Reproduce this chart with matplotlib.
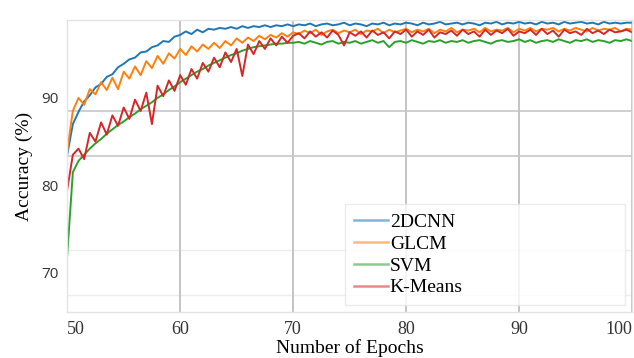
import numpy as np
import matplotlib
matplotlib.use("Agg")
import matplotlib.pyplot as plt

labels = ["2DCNN", "GLCM", "SVM", "K-Means"]
colors = ["#1f77b4", "#ff7f0e", "#2ca02c", "#d62728"]

cnn = [83.5, 87.0, 88.4, 89.6, 90.3, 91.2, 91.6, 92.4, 92.7, 93.5, 93.9, 94.4, 94.6, 95.2, 95.3, 95.8,
       96.0, 96.5, 96.4, 97.0, 97.2, 97.6, 97.3, 97.8, 97.5, 97.9, 97.8, 98.0, 97.9, 98.1, 97.9, 98.2,
       98.0, 98.2, 98.1, 98.3, 98.1, 98.3, 98.2, 98.4, 98.2,
       98.4, 98.3, 98.5, 98.2, 98.4, 98.5, 98.3, 98.4, 98.6, 98.3,
       98.5, 98.4, 98.2, 98.5, 98.4, 98.6, 98.3, 98.5, 98.4, 98.6,
       98.5, 98.3, 98.6, 98.4, 98.5, 98.7, 98.4, 98.5, 98.6, 98.4,
       98.6, 98.5, 98.3, 98.6, 98.5, 98.7, 98.4, 98.6, 98.5, 98.7,
       98.5, 98.6, 98.4, 98.7, 98.5, 98.6, 98.4, 98.7, 98.5, 98.6,
       98.7, 98.5, 98.6, 98.4, 98.7, 98.5, 98.6, 98.5, 98.6, 98.6]

glcm = [84.0, 88.5, 90.0, 89.2, 91.0, 90.4, 91.8, 90.9, 92.3, 91.0, 93.0, 92.2, 93.6, 92.6, 94.2, 93.4,
        94.8, 93.9, 95.1, 94.5, 95.6, 94.9, 95.9, 95.3, 96.1, 95.6, 96.3, 95.7, 96.5, 96.0, 96.8, 96.3,
        96.9, 96.5, 97.1, 96.7, 97.2, 96.9, 97.4, 97.0, 97.5,
        97.3, 97.7, 97.4, 97.8, 97.2, 97.6, 97.8, 97.4, 97.7, 97.5,
        97.8, 97.3, 97.7, 97.6, 97.9, 97.4, 97.8, 97.5, 97.7, 97.9,
        97.5, 97.8, 97.6, 97.9, 97.4, 97.8, 97.6, 98.0, 97.5, 97.8,
        97.7, 97.9, 97.5, 98.0, 97.6, 97.8, 97.7, 98.0, 97.5, 97.9,
        97.7, 98.0, 97.6, 97.9, 97.8, 98.0, 97.6, 97.9, 97.7, 98.0,
        97.8, 97.6, 98.0, 97.7, 97.9, 97.8, 98.0, 97.6, 97.9, 97.8]

svm = [72.0, 81.5, 82.8, 83.5, 84.2, 84.8, 85.3, 85.9, 86.4, 86.9, 87.3, 87.8, 88.2, 88.7, 89.1, 89.5,
       90.0, 90.4, 90.9, 91.3, 91.8, 92.2, 92.6, 93.0, 93.3, 93.7, 94.0, 94.3, 94.6, 94.9, 95.1, 95.4,
       95.6, 95.8, 95.9, 96.0, 96.1, 96.2, 96.2, 96.3, 96.3,
       96.4, 96.2, 96.5, 96.3, 96.1, 96.4, 96.5, 96.2, 96.4, 96.3,
       96.5, 96.2, 96.4, 96.6, 96.3, 96.5, 95.8, 96.4, 96.5, 96.3,
       96.6, 96.4, 96.2, 96.5, 96.4, 96.6, 96.3, 96.5, 96.4, 96.6,
       96.3, 96.5, 96.6, 96.4, 96.2, 96.5, 96.6, 96.4, 96.5, 96.7,
       96.4, 96.6, 96.3, 96.5, 96.6, 96.4, 96.7, 96.5, 96.3, 96.6,
       96.5, 96.7, 96.4, 96.6, 96.5, 96.3, 96.6, 96.5, 96.7, 96.5]

kmeans = [79.5, 83.5, 84.2, 83.0, 86.0, 85.0, 87.2, 85.8, 88.0, 86.8, 88.9, 87.6, 89.8, 88.5, 90.6, 87.0,
          91.4, 90.2, 92.0, 90.8, 92.6, 91.5, 93.3, 92.2, 94.0, 93.0, 94.6, 93.5, 95.2, 94.1, 95.6, 92.5,
          96.1, 95.0, 96.5, 95.6, 96.8, 96.0, 97.0, 96.3, 97.1,
          97.4, 96.8, 97.6, 97.0, 97.5, 96.9, 97.7, 97.2, 96.0, 97.5,
          97.1, 97.6, 96.9, 97.7, 97.2, 97.5, 96.8, 97.6, 97.3, 97.8,
          97.0, 97.6, 97.2, 97.8, 96.9, 97.5, 97.3, 97.7, 97.1, 97.8,
          97.3, 97.6, 97.0, 97.8, 97.2, 97.7, 97.4, 97.9, 97.1, 97.6,
          97.4, 97.8, 97.2, 97.9, 97.3, 97.7, 97.0, 97.8, 97.4, 97.6,
          97.2, 97.9, 97.4, 97.7, 97.3, 97.8, 97.5, 97.6, 97.8, 97.5]

series = [cnn, glcm, svm, kmeans]
xticks = [50, 60, 70, 80, 90, 100]
yticks = [70, 80, 90]
hgrid_strong = [83.3, 88.5]
hgrid_faint = [67.5, 72.6]

fig = plt.figure(figsize=(6.34, 3.58), dpi=100)
ax = fig.add_axes([0.106, 0.128, 0.891, 0.816])

for vals, lab, col in zip(series, labels, colors):
    xs = np.linspace(50, 100, len(vals))
    ax.plot(xs, vals, color=col, lw=1.4, label=lab)

ax.set_xlim(50, 100)
ax.set_ylim(65.5, 98.9)

ax.set_xticks(xticks)
xt = ax.set_xticklabels([str(t) for t in xticks], family="Liberation Serif", fontsize=13, color="#333333")
xt[0].set_ha("left")
xt[-1].set_ha("right")
ax.set_yticks(yticks)
ax.set_yticklabels([str(t) for t in yticks], family="Open Sans", fontsize=11, color="#333333")
ax.tick_params(axis="both", length=0, pad=6)

ax.grid(axis="x", which="major", color="#c4c4c4", lw=1.4)
for v in hgrid_strong:
    ax.axhline(v, color="#cbcbcb", lw=1.3, zorder=0.5)
for v in hgrid_faint:
    ax.axhline(v, color="#ececec", lw=1.0, zorder=0.5)
ax.set_axisbelow(True)
for s in ax.spines.values():
    s.set_color("#e4e4e4")
    s.set_linewidth(1.0)

ax.set_xlabel("Number of Epochs", family="Liberation Serif", fontsize=14, labelpad=1)
ax.set_ylabel("Accuracy (%)", family="Liberation Serif", fontsize=14, labelpad=6)

leg = ax.legend(loc="lower left", bbox_to_anchor=(0.492, 0.024, 0.496, 0.342), mode="expand",
                prop={"family": "Liberation Serif", "size": 14},
                frameon=True, fancybox=False, edgecolor="#e6e6e6",
                handlelength=1.75, handletextpad=0.1, labelspacing=0.22,
                borderpad=0.45, borderaxespad=0.0)
leg.get_frame().set_linewidth(1.0)
for line in leg.get_lines():
    line.set_alpha(0.55)
    line.set_linewidth(1.8)
fig.savefig("out.png", dpi=100)
